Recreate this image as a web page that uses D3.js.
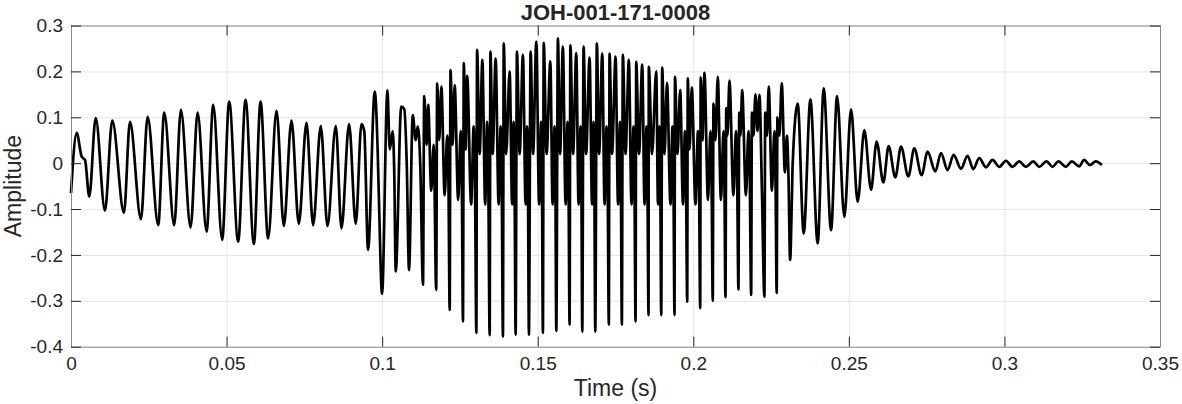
<!DOCTYPE html>
<html>
<head>
<meta charset="utf-8">
<script src="https://cdn.jsdelivr.net/npm/d3@7"></script>
<style>
  body { margin: 0; background: #fff; }
  text { font-family: "Liberation Sans", Arial, Helvetica, sans-serif; fill: #262626; }
</style>
</head>
<body>
<svg id="chart"></svg>
<script>
/* tick values */
const xTicks = [0, 0.05, 0.1, 0.15, 0.2, 0.25, 0.3, 0.35],
  yTicks = [-0.4, -0.3, -0.2, -0.1, 0, 0.1, 0.2, 0.3];

/* waveform (time in ms, amplitude) */
// quiet onset, ~180 Hz
const onsetMs = [0, 1.83, 3.44, 4.50, 5.88, 7.93, 10.92, 13.26, 17.02, 18.95, 22.48, 24.63,
  28.03, 29.96, 33.17, 35.32, 38.44, 40.69, 43.58, 45.70, 48.59, 50.84, 53.73, 56.10,
  58.77, 60.92, 63.36, 66.06, 68.40, 70.87, 73.22, 75.69, 77.81, 80.28, 82.43, 85.10,
  86.93, 89.37, 91.52, 93.35, 94.25, 95.47];
const onsetAmp = [-0.065, 0.066, 0.014, 0.007, -0.073, 0.098, -0.103, 0.093, -0.108, 0.090, -0.122, 0.101,
  -0.135, 0.110, -0.135, 0.116, -0.140, 0.110, -0.149, 0.127, -0.167, 0.134, -0.171, 0.138,
  -0.176, 0.134, -0.164, 0.114, -0.137, 0.093, -0.132, 0.088, -0.135, 0.081, -0.137, 0.081,
  -0.142, 0.085, -0.132, 0.085, 0.070, -0.189];

// loud voiced part, one row per glottal cycle
const voicedMs = [97.62, 98.59, 99.00,
  99.97, 101.70, 102.44, 103.40, 103.89,
  104.37, 106.13, 107.10, 107.90,
  108.64, 109.83, 110.79, 111.43, 112.24,
  113.13, 113.52, 114.32, 114.80, 115.77, 116.57,
  117.37, 117.69, 118.34, 119.04, 120.10, 120.91, 121.31,
  121.71, 121.97, 122.67, 123.31, 124.44, 125.24, 125.61,
  125.98, 126.24, 126.85, 127.33, 128.61, 129.42, 129.85,
  130.28, 130.51, 131.34, 132.21, 133.11, 133.75, 134.15,
  134.55, 134.81, 135.52, 136.48, 137.44, 138.09, 138.45,
  138.82, 139.08, 139.85, 140.98, 141.78, 142.26, 142.58,
  142.90, 143.32, 144.19, 145.25, 146.11, 146.60, 146.88,
  147.17, 147.72, 148.52, 149.55, 150.45, 151.09, 151.38,
  151.67, 151.93, 152.86, 154.05, 154.78, 155.43, 155.70,
  155.97, 156.49, 157.19, 158.09, 158.96, 159.60, 159.92,
  160.24, 160.50, 161.37, 162.39, 163.13, 163.78, 164.05,
  164.32, 164.74, 165.54, 166.67, 167.47, 167.95, 168.22,
  168.50, 169.01, 169.72, 170.75, 171.48, 172.13, 172.50,
  172.86, 173.09, 173.89, 175.02, 175.82, 176.46, 176.75,
  177.04, 177.36, 178.23, 179.29, 180.15, 180.80, 181.12,
  181.44, 181.66, 182.56, 183.59, 184.33, 184.97, 185.29,
  185.61, 185.71, 186.74, 188.09, 188.66, 189.15, 189.42,
  189.69, 190.01, 190.75, 191.55, 192.68, 193.32, 193.64,
  193.96, 194.12, 194.93, 195.79, 196.69, 197.33, 197.68,
  198.04, 198.23, 198.78, 199.52, 200.71, 201.51, 201.86,
  202.22, 202.38, 202.95, 203.60, 204.72, 205.52, 205.89,
  206.26, 206.49, 207.13, 207.87, 208.89, 209.70, 210.02,
  210.34, 210.60, 210.98, 211.62, 212.91, 213.71, 214.11,
  214.51, 214.77, 215.16, 215.70, 216.92, 217.73, 218.16,
  218.59, 218.85, 219.33, 219.97, 220.62, 221.26, 222.06,
  222.86, 223.12, 223.67, 224.25, 225.27, 226.08, 226.44,
  226.81, 227.04, 227.68, 228.42, 229.45, 230.09, 230.60,
  231.12, 231.70, 231.95, 233.56];
const voicedAmp = [0.156, 0.02, -0.087,
  -0.285, 0.159, 0.03, 0.07, -0.02,
  -0.236, 0.123, 0.118, 0.0,
  -0.233, 0.105, 0.05, 0.08, 0.0,
  -0.265, 0.146, 0.04, 0.127, -0.06, 0.04,
  -0.276, 0.174, 0.05, 0.167, -0.07, 0.06, -0.04,
  -0.320, 0.203, 0.04, 0.170, -0.08, 0.07, -0.05,
  -0.345, 0.218, 0.03, 0.190, -0.09, 0.08, -0.05,
  -0.370, 0.247, 0.02, 0.225, -0.09, 0.09, -0.06,
  -0.375, 0.243, 0.02, 0.228, -0.09, 0.08, -0.06,
  -0.378, 0.261, 0.02, 0.200, -0.09, 0.09, -0.06,
  -0.374, 0.243, 0.02, 0.236, -0.09, 0.08, -0.06,
  -0.374, 0.243, 0.02, 0.265, -0.09, 0.09, -0.06,
  -0.370, 0.262, 0.02, 0.222, -0.09, 0.08, -0.06,
  -0.366, 0.272, 0.02, 0.254, -0.09, 0.09, -0.06,
  -0.352, 0.257, 0.02, 0.240, -0.09, 0.08, -0.06,
  -0.367, 0.254, 0.02, 0.230, -0.09, 0.09, -0.06,
  -0.367, 0.261, 0.02, 0.239, -0.09, 0.08, -0.06,
  -0.352, 0.239, 0.02, 0.232, -0.09, 0.09, -0.06,
  -0.352, 0.236, 0.02, 0.225, -0.09, 0.08, -0.06,
  -0.345, 0.221, 0.02, 0.215, -0.09, 0.08, -0.06,
  -0.331, 0.210, 0.02, 0.200, -0.09, 0.08, -0.06,
  -0.331, 0.208, 0.02, 0.175, -0.09, 0.08, -0.05,
  -0.331, 0.188, 0.02, 0.160, -0.09, 0.07, -0.05,
  -0.302, 0.185, 0.03, 0.165, -0.09, 0.07, -0.05,
  -0.316, 0.187, 0.05, 0.197, -0.08, 0.07, -0.05,
  -0.300, 0.130, 0.05, 0.188, -0.08, 0.07, -0.05,
  -0.292, 0.120, 0.06, 0.180, -0.07, 0.07, -0.04,
  -0.275, 0.110, 0.06, 0.159, -0.07, 0.07, -0.04,
  -0.287, 0.110, 0.06, 0.150, 0.07, 0.149, -0.06,
  -0.291, 0.110, 0.06, 0.167, -0.06, 0.07, -0.04,
  -0.283, 0.100, 0.06, 0.174, -0.02, 0.06, -0.03,
  -0.211, -0.073, 0.0, 0.130];

// decaying tail
const decayMs = [235.49, 237.64, 239.98, 241.91, 244.28, 246.21, 248.55, 250.71, 252.83, 254.98,
  257.13, 258.93, 261.08, 262.78, 264.93, 266.76, 269.11, 271.03, 273.38, 275.31,
  277.78, 279.61, 281.73, 283.66, 286.03, 288.15, 289.98, 291.91, 294.06, 296.18,
  298.33, 300.48, 302.60, 304.75, 306.90, 309.25, 311.17, 313.52, 315.45, 317.37,
  319.75, 321.68, 324.02, 325.63, 327.46, 329.38, 331.31];
const decayAmp = [-0.153, 0.139, -0.175, 0.163, -0.146, 0.146, -0.117, 0.117, -0.084, 0.072,
  -0.058, 0.047, -0.042, 0.037, -0.031, 0.036, -0.029, 0.032, -0.026, 0.025,
  -0.018, 0.022, -0.015, 0.018, -0.012, 0.016, -0.013, 0.011, -0.009, 0.007,
  -0.008, 0.005, -0.008, 0.004, -0.008, 0.004, -0.008, 0.004, -0.008, 0.004,
  -0.008, 0.004, -0.007, 0.007, -0.004, 0.004, -0.004];

const title = "JOH-001-171-0008",
  xLabel = "Time (s)",
  yLabel = "Amplitude";

/* display parameters */
const width = 1182,
  height = 404,
  plot_left = 71,
  plot_right = 1160,
  plot_top = 25.5,
  plot_bottom = 346.7,
  tick_len = 10;

let svg = d3.select("#chart").attr("width", width).attr("height", height);

svg.append("rect").attr("width", width).attr("height", height).attr("fill", "#fff");

let x = d3.scaleLinear().domain([0, 0.35]).range([plot_left, plot_right]),
  y = d3.scaleLinear().domain([-0.4, 0.3]).range([plot_bottom, plot_top]);

/* grid */
let gx = svg
  .append("g")
  .attr("transform", "translate(0," + plot_bottom + ")")
  .call(d3.axisBottom(x).tickValues(xTicks).tickSize(-(plot_bottom - plot_top)).tickFormat(""));
let gy = svg
  .append("g")
  .attr("transform", "translate(" + plot_left + ",0)")
  .call(d3.axisLeft(y).tickValues(yTicks).tickSize(-(plot_right - plot_left)).tickFormat(""));
[gx, gy].forEach(g => {
  g.select(".domain").remove();
  g.selectAll(".tick line").attr("stroke", "#e6e6e6").attr("stroke-width", 1);
});

/* waveform */
const series = []
  .concat(onsetMs.map((t, i) => ({ t: t / 1000, a: onsetAmp[i] })))
  .concat(voicedMs.map((t, i) => ({ t: t / 1000, a: voicedAmp[i] })))
  .concat(decayMs.map((t, i) => ({ t: t / 1000, a: decayAmp[i] })));

let line = d3
  .line()
  .x(d => x(d.t))
  .y(d => y(d.a))
  .curve(d3.curveMonotoneX);

svg
  .append("path")
  .datum(series)
  .attr("d", line)
  .attr("fill", "none")
  .attr("stroke", "#000")
  .attr("stroke-width", 2.7)
  .attr("stroke-linejoin", "round");

/* axes: ticks point inward, box on */
let fmt = d => String(d);

let axB = svg
  .append("g")
  .attr("transform", "translate(0," + plot_bottom + ")")
  .call(d3.axisBottom(x).tickValues(xTicks).tickSizeInner(-tick_len).tickSizeOuter(0).tickPadding(10).tickFormat(fmt));
let axT = svg
  .append("g")
  .attr("transform", "translate(0," + plot_top + ")")
  .call(d3.axisTop(x).tickValues(xTicks).tickSizeInner(-tick_len).tickSizeOuter(0).tickFormat(""));
let axL = svg
  .append("g")
  .attr("transform", "translate(" + plot_left + ",0)")
  .call(d3.axisLeft(y).tickValues(yTicks).tickSizeInner(-tick_len).tickSizeOuter(0).tickPadding(8).tickFormat(fmt));
let axR = svg
  .append("g")
  .attr("transform", "translate(" + plot_right + ",0)")
  .call(d3.axisRight(y).tickValues(yTicks).tickSizeInner(-tick_len).tickSizeOuter(0).tickFormat(""));

[axB, axT, axL, axR].forEach(g => {
  g.select(".domain").attr("stroke", "#8a8a8a").attr("stroke-width", 1);
  g.selectAll(".tick line").attr("stroke", "#262626");
  g.selectAll(".tick text")
    .attr("fill", "#262626")
    .style("font-size", "19px")
    .attr("font-family", null);
});

/* labels */
svg
  .append("text")
  .attr("x", (plot_left + plot_right) / 2)
  .attr("y", 20)
  .attr("text-anchor", "middle")
  .style("font-size", "22px")
  .style("font-weight", "bold")
  .text(title);

svg
  .append("text")
  .attr("x", (plot_left + plot_right) / 2)
  .attr("y", 396)
  .attr("text-anchor", "middle")
  .style("font-size", "23px")
  .text(xLabel);

svg
  .append("text")
  .attr("transform", "translate(21," + (plot_top + plot_bottom) / 2 + ") rotate(-90)")
  .attr("text-anchor", "middle")
  .style("font-size", "23px")
  .text(yLabel);
</script>
</body>
</html>
